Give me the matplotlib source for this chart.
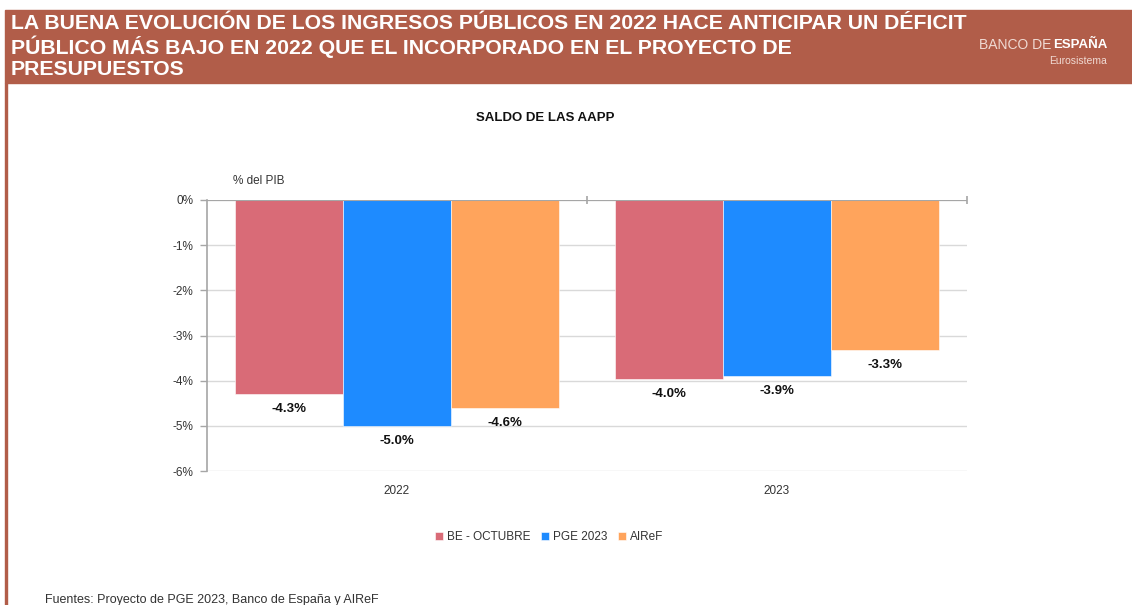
import matplotlib
matplotlib.use('Agg')
import matplotlib.pyplot as plt
import numpy as np

plt.rcParams['font.family'] = ['Liberation Sans', 'DejaVu Sans']

# data (% del PIB)
years = ['2022', '2023']
series_names = ['BE - OCTUBRE', 'PGE 2023', 'AIReF']
be_octubre = [-4.3, -3.96]
pge_2023 = [-5.0, -3.89]
airef = [-4.6, -3.32]
y_ticks = [0, -1, -2, -3, -4, -5, -6]

colors = ['#D96B77', '#1E8BFF', '#FFA45C']
header_color = '#B15D49'

W, H = 1132, 605
fig = plt.figure(figsize=(W / 100, H / 100), dpi=100)


def fx(px):
    return px / W


def fy(py):
    return 1 - py / H


# header band
fig.patches.append(plt.Rectangle((fx(5), fy(83)), 1 - fx(5), fy(10) - fy(83),
                                 transform=fig.transFigure, color=header_color, zorder=0))
fig.patches.append(plt.Rectangle((fx(5), 0), fx(2), fy(83),
                                 transform=fig.transFigure, color=header_color, zorder=0))
header = ('LA BUENA EVOLUCIÓN DE LOS INGRESOS PÚBLICOS EN 2022 HACE ANTICIPAR UN DÉFICIT\n'
          'PÚBLICO MÁS BAJO EN 2022 QUE EL INCORPORADO EN EL PROYECTO DE\n'
          'PRESUPUESTOS')
fig.text(fx(11), fy(14), header, color='white', fontsize=15.3, fontweight='bold',
         va='top', ha='left', linespacing=1.13)
fig.text(fx(1051), fy(45), 'BANCO DE', color='#F0DAD3', fontsize=10, va='center', ha='right')
fig.text(fx(1053), fy(45), 'ESPAÑA', color='white', fontsize=9.5, fontweight='bold',
         va='center', ha='left')
fig.text(fx(1107), fy(61), 'Eurosistema', color='#F0DAD3', fontsize=7.5, va='center', ha='right')

fig.text(fx(545), fy(118), 'SALDO DE LAS AAPP', fontsize=9.5, fontweight='bold',
         ha='center', va='center', color='#111111')
fig.text(fx(233), fy(181), '% del PIB', fontsize=8.5, ha='left', va='center', color='#333333')
fig.text(fx(45), fy(594), 'Fuentes: Proyecto de PGE 2023, Banco de España y AIReF',
         fontsize=9, ha='left', va='top', color='#333333')

ax = fig.add_axes([fx(207), fy(471), fx(967) - fx(207), fy(200) - fy(471)])

x = np.arange(len(years))
width = 0.285
for i, (vals, name) in enumerate(zip([be_octubre, pge_2023, airef], series_names)):
    pos = x + (i - 1) * width
    ax.bar(pos, vals, width, color=colors[i], label=name, zorder=2,
           edgecolor='white', linewidth=0.4)
    for p, v in zip(pos, vals):
        ax.annotate(f'{v:.1f}%', (p, v), xytext=(0, -11), textcoords='offset points',
                    ha='center', va='center', fontsize=9.5, fontweight='bold', color='#111111')

ax.set_xlim(-0.5, len(years) - 0.5)
ax.set_ylim(-6, 0)
ax.set_yticks(y_ticks)
ax.set_yticklabels([f'{t}%' for t in y_ticks])
ax.set_xticks(x)
ax.set_xticklabels(years)
ax.tick_params(axis='x', length=0, pad=10, labelsize=8.5, labelcolor='#333333')
ax.tick_params(axis='y', length=5, width=1, color='#A6A6A6', labelsize=8.5,
               labelcolor='#333333', pad=5)
ax.grid(axis='y', color='#D9D9D9', linewidth=1, zorder=0)
for s in ['top', 'right', 'bottom']:
    ax.spines[s].set_visible(False)
ax.spines['left'].set_color('#A6A6A6')
ax.spines['left'].set_linewidth(1.2)

# category axis at 0%
ax.axhline(0, color='#A6A6A6', linewidth=1.5, zorder=3)
ax.vlines([0.5, 1.5], -0.09, 0.09, color='#A6A6A6', linewidth=1.2, zorder=3, clip_on=False)

fig.legend(loc='center', bbox_to_anchor=(fx(549), fy(537)), ncol=3, frameon=False,
           fontsize=8.5, handlelength=0.7, handleheight=0.7, handletextpad=0.3,
           columnspacing=0.9, labelcolor='#333333')

fig.savefig('out.png', dpi=100)
